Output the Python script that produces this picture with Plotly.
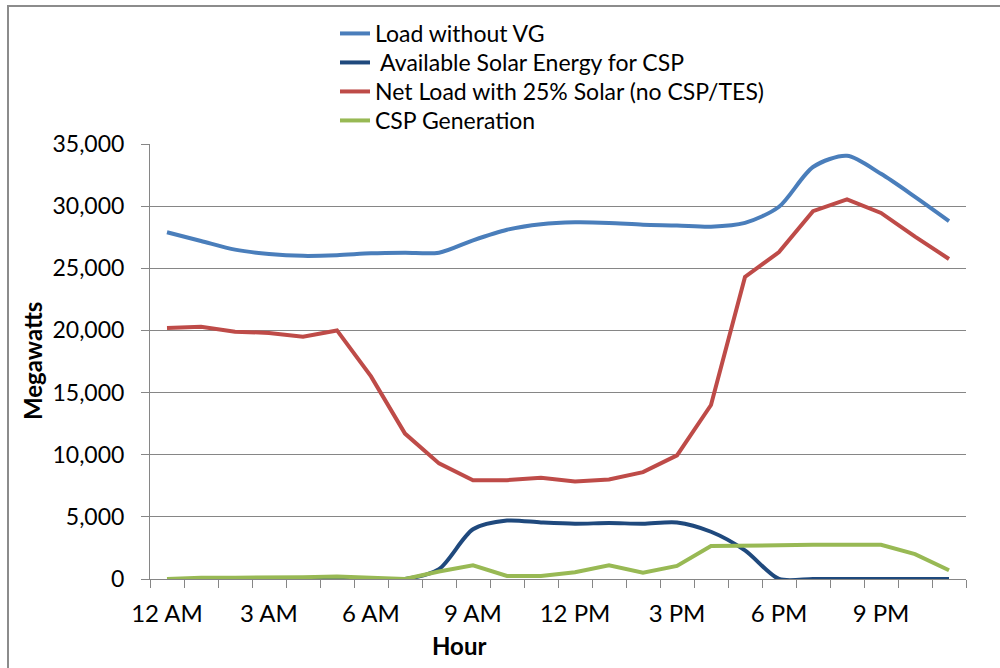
import plotly.graph_objects as go

hours = list(range(24))
tick_hours = [0, 3, 6, 9, 12, 15, 18, 21]
tick_labels = ["12 AM", "3 AM", "6 AM", "9 AM", "12 PM", "3 PM", "6 PM", "9 PM"]

load_without_vg = [27900, 27200, 26500, 26150, 26000, 26050, 26200, 26250, 26250, 27250,
                   28100, 28550, 28700, 28650, 28500, 28450, 28350, 28650, 29950, 33150,
                   34050, 32600, 30750, 28800]
available_solar = [0, 0, 0, 0, 0, 0, 0, 0, 800, 4000,
                   4700, 4550, 4450, 4500, 4450, 4550, 3800, 2300, 0, 0,
                   0, 0, 0, 0]
net_load = [20200, 20300, 19900, 19800, 19500, 20000, 16300, 11700, 9300, 7950,
            7950, 8150, 7850, 8000, 8600, 9950, 14000, 24300, 26300, 29600,
            30550, 29450, 27550, 25750]
csp_generation = [0, 100, 100, 100, 150, 200, 100, 0, 600, 1100,
                  250, 250, 550, 1100, 500, 1050, 2650, 2700, 2750, 2750,
                  2750, 2750, 2000, 700]

FONT = "Lato"
W, H = 1000, 668
L, R, T, B = 150, 34, 144, 89
PW, PH = W - L - R, H - T - B

def px(x):
    return (x - L) / PW

def py(y):
    return (H - B - y) / PH

fig = go.Figure()
fig.add_trace(go.Scatter(x=hours, y=load_without_vg, name="Load without VG", mode="lines",
                         legend="legend",
                         line=dict(color="#4a7ebb", width=4, shape="spline", smoothing=0.8)))
fig.add_trace(go.Scatter(x=hours, y=available_solar, name=" Available Solar Energy for CSP", mode="lines",
                         legend="legend2",
                         line=dict(color="#1f497d", width=4, shape="spline", smoothing=0.8)))
fig.add_trace(go.Scatter(x=hours, y=net_load, name="Net Load with 25% Solar (no CSP/TES)", mode="lines",
                         legend="legend3",
                         line=dict(color="#be4b48", width=4)))
fig.add_trace(go.Scatter(x=hours, y=csp_generation, name="CSP Generation", mode="lines",
                         legend="legend4",
                         line=dict(color="#98b954", width=4)))

grey = "#868686"

def leg(top):
    return dict(x=px(335), y=py(top), xanchor="left", yanchor="top",
                bgcolor="rgba(0,0,0,0)", font=dict(family=FONT, size=23, color="black"),
                itemwidth=30)

fig.update_layout(
    width=W, height=H,
    margin=dict(l=L, r=R, t=T, b=B),
    paper_bgcolor="white", plot_bgcolor="white",
    font=dict(family=FONT, size=23, color="black"),
    showlegend=True,
    legend=leg(12), legend2=leg(41), legend3=leg(70), legend4=leg(99),
    xaxis=dict(range=[-0.5, 23.5], tickmode="array", tickvals=tick_hours, ticktext=tick_labels,
               ticks="", showgrid=False, zeroline=False, showline=True, linecolor=grey, linewidth=1,
               tickfont=dict(family=FONT, size=24), ticklabelstandoff=13,
               minor=dict(tick0=-0.5, dtick=1, ticks="outside", ticklen=8, tickcolor=grey,
                          tickwidth=1, showgrid=False)),
    yaxis=dict(range=[0, 35000], dtick=5000, tickformat=",", ticks="outside", ticklen=8,
               tickcolor=grey, showgrid=True, gridcolor=grey, gridwidth=1, zeroline=False,
               showline=True, linecolor=grey, linewidth=1,
               tickfont=dict(family=FONT, size=23), ticklabelstandoff=12),
    annotations=[
        dict(text="<b>Megawatts</b>", x=px(32), y=py(361), xref="paper", yref="paper",
             textangle=-90, showarrow=False, font=dict(family=FONT, size=24),
             xanchor="center", yanchor="middle"),
        dict(text="<b>Hour</b>", x=px(459), y=py(645), xref="paper", yref="paper",
             showarrow=False, font=dict(family=FONT, size=24),
             xanchor="center", yanchor="middle"),
    ],
    shapes=[dict(type="rect", xref="paper", yref="paper",
                 x0=px(8), x1=px(1010), y0=py(680), y1=py(6),
                 line=dict(color="#8c8c8c", width=2), fillcolor="rgba(0,0,0,0)")],
)

fig.write_html("out.html")
